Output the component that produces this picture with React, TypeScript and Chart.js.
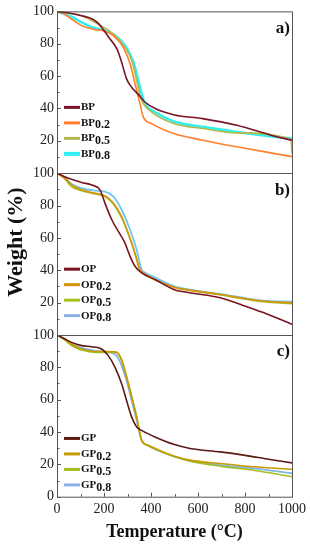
import React, { useEffect, useRef } from "react";
import { Chart, registerables } from "chart.js";
Chart.register(...registerables);

const FONT = '"Liberation Serif", "DejaVu Serif", serif';

// Panel a
const bpNames = ["BP", "BP0.2", "BP0.5", "BP0.8"];
const bpT = [0, 50, 100, 150, 180, 220, 255, 275, 296, 318, 346, 374, 420, 500, 620, 765, 865, 910, 1000];
const bpW = [100, 99, 97.5, 95.3, 92, 84, 76.8, 68.6, 58.3, 53, 48.7, 44, 39.8, 36, 33.7, 29.6, 25.5, 23.5, 20.3];
const bp02T = [0, 30, 62, 105, 150, 205, 240, 282, 311, 332, 353, 367, 403, 500, 620, 765, 1000];
const bp02W = [100, 98.5, 95.3, 91.2, 89.1, 87.7, 85, 77.8, 67.6, 55.3, 43, 34.8, 30.6, 24.3, 20.4, 16.3, 10.2];
const bp05T = [0, 50, 105, 176, 240, 289, 318, 339, 353, 367, 403, 500, 620, 765, 995, 1000];
const bp05W = [100, 99, 97.3, 92, 86, 77.8, 69.6, 57.3, 48.1, 43, 37.8, 30.5, 27.6, 24.9, 20.8, 12];
const bp08T = [0, 30, 62, 105, 148, 204, 247, 289, 325, 346, 360, 374, 417, 500, 620, 765, 906, 1000];
const bp08W = [100, 98.5, 96.7, 93.2, 90.2, 88.1, 85, 78.9, 68.6, 57.3, 49.1, 43, 37.8, 31.8, 28.6, 25.5, 22.9, 21.4];

// Panel b
const opNames = ["OP", "OP0.2", "OP0.5", "OP0.8"];
const opT = [0, 30, 62, 105, 148, 183, 204, 233, 261, 289, 311, 332, 360, 417, 500, 566, 694, 779, 878, 1000];
const opW = [100, 98, 96.2, 94.2, 92.7, 89.7, 81.5, 71.2, 64, 56.9, 48.6, 42.5, 38.4, 34.3, 28, 26.1, 23, 18.9, 13.8, 6.6];
const op02T = [0, 33, 62, 105, 162, 204, 240, 275, 303, 332, 353, 367, 417, 500, 566, 694, 779, 878, 1000];
const op02W = [100, 96.9, 92.7, 89.7, 87.6, 86, 81.5, 73.2, 63, 50.7, 40.4, 38.4, 34.3, 29.5, 27.7, 25, 23, 20.9, 19.8];
const op05T = [0, 33, 62, 105, 162, 204, 240, 275, 303, 332, 353, 367, 417, 500, 566, 694, 779, 878, 1000];
const op05W = [100, 96.5, 91.7, 89.2, 87.2, 85.5, 81, 72.5, 62.5, 50, 40, 38, 34, 29.3, 27.5, 24.8, 22.7, 20.5, 19.3];
const op08T = [0, 33, 62, 105, 162, 204, 240, 275, 311, 339, 360, 374, 417, 500, 566, 694, 779, 878, 1000];
const op08W = [100, 97.3, 93.3, 90.7, 89.2, 88.6, 85.5, 77.4, 65, 52.7, 40.4, 38.6, 35.5, 30, 28, 25.3, 23.3, 21.2, 20.5];

// Panel c
const gpNames = ["GP", "GP0.2", "GP0.5", "GP0.8"];
const gpT = [0, 30, 62, 105, 148, 190, 218, 247, 275, 296, 318, 339, 360, 417, 500, 566, 694, 794, 906, 1000];
const gpW = [100, 97.8, 95.4, 93.4, 92.7, 91.3, 87.2, 80, 69.8, 59.5, 49.2, 43.1, 41, 36.9, 32.2, 29.8, 27.7, 25.7, 23, 20.9];
const gp02T = [0, 30, 62, 105, 162, 218, 254, 275, 296, 318, 339, 360, 389, 500, 566, 694, 836, 1000];
const gp02W = [100, 97.5, 94.4, 91.3, 89.8, 89.8, 89, 84.1, 73.8, 61.5, 49.2, 34.9, 31.8, 25, 22.6, 20.5, 18.5, 16.9];
const gp05T = [0, 30, 62, 105, 162, 218, 250, 275, 296, 318, 339, 360, 389, 500, 566, 694, 836, 1000];
const gp05W = [100, 97.2, 93.5, 90.7, 89.2, 89.2, 89.5, 85, 74.5, 62, 49.5, 35, 31.5, 24.8, 22, 18.9, 16.4, 12.4];
const gp08T = [0, 30, 62, 105, 162, 218, 254, 275, 296, 318, 339, 360, 389, 500, 566, 694, 836, 1000];
const gp08W = [100, 97.5, 94, 92, 90.2, 89.4, 87, 81, 71.8, 59.5, 47.2, 34.9, 31.5, 24.8, 22.2, 19.5, 17.5, 14.5];

const panelLabels = ["a)", "b)", "c)"];
const yTitle = "Weight (%)";
const xTitle = "Temperature (°C)";

const panelIds = ["yA", "yB", "yC"];
const panels = [
  {
    id: "yA",
    names: bpNames,
    series: [[bpT, bpW], [bp02T, bp02W], [bp05T, bp05W], [bp08T, bp08W]],
    colors: ["#7a1426", "#ff7f2a", "#b5b64c", "#2ff0f0"],
    widths: [1.6, 1.6, 1.6, 2.6],
    legendTop: 96,
  },
  {
    id: "yB",
    names: opNames,
    series: [[opT, opW], [op02T, op02W], [op05T, op05W], [op08T, op08W]],
    colors: ["#7a1420", "#d8920e", "#a6c21a", "#6cc6ee"],
    widths: [1.6, 1.6, 1.6, 1.8],
    legendTop: 96,
  },
  {
    id: "yC",
    names: gpNames,
    series: [[gpT, gpW], [gp02T, gp02W], [gp05T, gp05W], [gp08T, gp08W]],
    colors: ["#5c1a12", "#c99a00", "#a3bd22", "#7db6ee"],
    widths: [1.6, 1.6, 1.6, 1.8],
    legendTop: 103.5,
  },
];

const decorPlugin = {
  id: "decor",
  afterDatasetsDraw(chart: any) {
    const ctx = chart.ctx;
    const { left, right, top, bottom } = chart.chartArea;
    ctx.save();
    ctx.strokeStyle = "#555";
    ctx.lineWidth = 1;
    ctx.strokeRect(left + 0.5, top + 0.5, right - left, bottom - top);
    panelIds.forEach((id, pi) => {
      const s = chart.scales[id];
      if (pi < 2) {
        const yb = Math.round(s.bottom) + 0.5;
        ctx.beginPath();
        ctx.moveTo(left, yb);
        ctx.lineTo(right, yb);
        ctx.stroke();
      }
      for (let v = 0; v <= 100; v += 10) {
        const y = Math.round(s.getPixelForValue(v)) + 0.5;
        const len = v % 20 === 0 ? 4 : 2.5;
        ctx.beginPath();
        ctx.moveTo(left, y);
        ctx.lineTo(left + len, y);
        ctx.stroke();
      }
    });
    const xs = chart.scales.x;
    for (let v = 0; v <= 1000; v += 100) {
      const x = Math.round(xs.getPixelForValue(v)) + 0.5;
      const len = v % 200 === 0 ? 4 : 2.5;
      ctx.beginPath();
      ctx.moveTo(x, bottom);
      ctx.lineTo(x, bottom - len);
      ctx.stroke();
    }

    // legends and panel labels
    panels.forEach((p, pi) => {
      const s = chart.scales[p.id];
      const pTop = s.getPixelForValue(100);
      p.names.forEach((name, i) => {
        const y = pTop + p.legendTop + i * 15.5;
        ctx.strokeStyle = i === 3 && pi > 0 ? "#8ab0e6" : p.colors[i];
        ctx.lineWidth = i === 3 && pi === 0 ? 4 : 3;
        ctx.beginPath();
        ctx.moveTo(left + 7, y);
        ctx.lineTo(left + 23, y);
        ctx.stroke();
        const m = name.match(/^([A-Z]+)(.*)$/);
        const base = m ? m[1] : name;
        const sub = m ? m[2] : "";
        ctx.fillStyle = "#111";
        ctx.textAlign = "left";
        ctx.textBaseline = "middle";
        ctx.font = `bold 11px ${FONT}`;
        ctx.fillText(base, left + 24, y);
        const w = ctx.measureText(base).width;
        if (sub) {
          ctx.font = `bold 12px ${FONT}`;
          ctx.fillText(sub, left + 24 + w, y + 2.5);
        }
      });
      ctx.fillStyle = "#111";
      ctx.font = `bold 17px ${FONT}`;
      ctx.textAlign = "right";
      ctx.textBaseline = "middle";
      ctx.fillText(panelLabels[pi], right - 2, pTop + 17);
    });

    // titles
    ctx.fillStyle = "#111";
    ctx.font = `bold 18px ${FONT}`;
    ctx.textAlign = "center";
    ctx.textBaseline = "alphabetic";
    ctx.fillText(xTitle, (left + right) / 2, 537);
    ctx.save();
    ctx.translate(16, (top + bottom) / 2 - 12);
    ctx.rotate(-Math.PI / 2);
    ctx.textBaseline = "middle";
    ctx.font = `bold 22px ${FONT}`;
    ctx.fillText(yTitle, 0, 0);
    ctx.restore();
    ctx.restore();
  },
};

export default function App() {
  const ref = useRef<HTMLCanvasElement | null>(null);
  useEffect(() => {
    if (!ref.current) return;
    const datasets: any[] = [];
    panels.forEach((p) => {
      p.series.forEach(([T, W], i) => {
        datasets.push({
          label: p.names[i],
          data: T.map((t, k) => ({ x: t, y: W[k] })),
          yAxisID: p.id,
          borderColor: p.colors[i],
          backgroundColor: p.colors[i],
          borderWidth: p.widths[i],
          pointRadius: 0,
          cubicInterpolationMode: "monotone",
          fill: false,
        });
      });
    });
    const yScale = (showZero: boolean) => ({
      type: "linear",
      position: "left",
      stack: "panels",
      stackWeight: 1,
      offset: false,
      min: 0,
      max: 100,
      grid: { display: true, drawOnChartArea: false, drawTicks: false },
      border: { display: false },
      ticks: {
        stepSize: 20,
        autoSkip: false,
        padding: 3,
        color: "#222",
        font: { family: FONT, size: 14 },
        callback: (v: number) => (v === 0 && !showZero ? "" : String(v)),
      },
      afterFit: (s: any) => {
        s.width = 57;
      },
    });
    const chart = new Chart(ref.current, {
      type: "line",
      data: { datasets },
      options: {
        animation: false,
        responsive: false,
        maintainAspectRatio: false,
        layout: { padding: { top: 9, right: 18, left: 0, bottom: 0 } },
        plugins: { legend: { display: false }, tooltip: { enabled: false } },
        scales: {
          x: {
            type: "linear",
            min: 0,
            max: 1000,
            grid: { display: true, drawOnChartArea: false, drawTicks: false },
            border: { display: false },
            ticks: {
              stepSize: 200,
              autoSkip: false,
              padding: 4,
              color: "#222",
              maxRotation: 0,
              font: { family: FONT, size: 14 },
              callback: (v: number) => String(v),
            },
            afterFit: (s: any) => {
              s.height = 53.3;
            },
          },
          yC: yScale(true),
          yB: yScale(false),
          yA: yScale(false),
        } as any,
      },
      plugins: [decorPlugin],
    } as any);
    return () => chart.destroy();
  }, []);
  return (
    <div style={{ position: "absolute", left: 0, top: 0, width: 310, height: 550, background: "#fff" }}>
      <canvas ref={ref} width={310} height={550} style={{ display: "block", width: 310, height: 550 }} />
    </div>
  );
}
